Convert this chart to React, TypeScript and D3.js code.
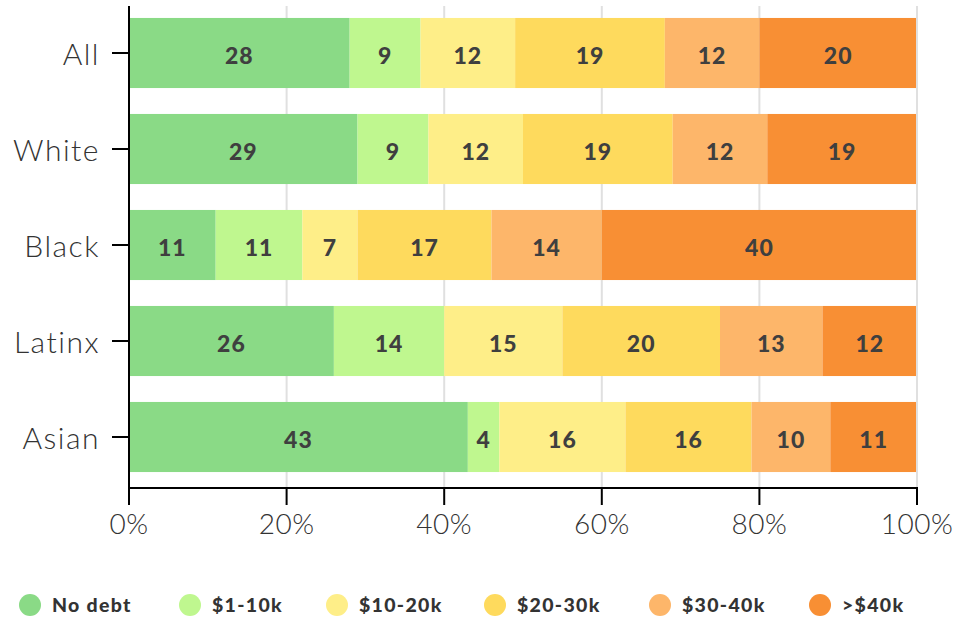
import React from "react";
import * as d3 from "d3";

const categories = ["All", "White", "Black", "Latinx", "Asian"];
const seriesNames = ["No debt", "$1-10k", "$10-20k", "$20-30k", "$30-40k", ">$40k"];
const noDebt = [28, 29, 11, 26, 43];
const k1to10 = [9, 9, 11, 14, 4];
const k10to20 = [12, 12, 7, 15, 16];
const k20to30 = [19, 19, 17, 20, 16];
const k30to40 = [12, 12, 14, 13, 10];
const over40 = [20, 19, 40, 12, 11];
const colors = ["#8ADA86", "#BFF78F", "#FEEE88", "#FEDA5D", "#FDB66A", "#F88F34"];
const xTicks = [0, 20, 40, 60, 80, 100];

const W = 955;
const H = 624;
const FONT = "Lato, 'Open Sans', sans-serif";

export default function App() {
  const series = [noDebt, k1to10, k10to20, k20to30, k30to40, over40];
  const rows = categories.map((c, i) => {
    const o: any = { cat: c };
    seriesNames.forEach((s, j) => (o[s] = series[j][i]));
    return o;
  });
  const stacked = d3.stack<any>().keys(seriesNames)(rows);
  const x = d3.scaleLinear().domain([0, 100]).range([129, 917]);
  const y = d3.scaleBand().domain(categories).range([5, 485]).paddingInner(0.27).paddingOuter(0.135);
  const axisY = 488;
  const legendX = [30, 190, 337, 495, 660, 820];

  return (
    <svg width={W} height={H} style={{ position: "absolute", left: 0, top: 0, background: "#fff" }}>
      {xTicks.map((t) => (
        <line key={"g" + t} x1={x(t)} x2={x(t)} y1={6} y2={axisY} stroke="#e0e0e0" strokeWidth={2} />
      ))}
      {stacked.map((layer, si) =>
        layer.map((d, i) => {
          const x0 = x(d[0]);
          const x1 = x(d[1]);
          const yy = y(categories[i])!;
          return (
            <g key={si + "-" + i}>
              <rect x={x0} y={yy} width={Math.max(0, x1 - x0 - (si === 5 ? 1 : 0))} height={y.bandwidth()} fill={colors[si]} />
              <text
                x={(x0 + x1) / 2}
                y={yy + y.bandwidth() / 2 + 5}
                textAnchor="middle"
                dominantBaseline="middle"
                fontFamily={FONT}
                fontWeight={900}
                fontSize={23}
                letterSpacing={1}
                fill="#3f3f3f"
              >
                {d[1] - d[0]}
              </text>
            </g>
          );
        })
      )}
      <line x1={129} x2={129} y1={6} y2={axisY + 1} stroke="#000" strokeWidth={2} />
      {categories.map((c) => {
        const cy = y(c)! + y.bandwidth() / 2;
        return (
          <g key={c}>
            <line x1={112} x2={129} y1={cy} y2={cy} stroke="#000" strokeWidth={2} />
            <text x={100} y={cy + 5} textAnchor="end" dominantBaseline="middle" fontFamily={FONT} fontWeight={300} fontSize={30} letterSpacing={1.5} fill="#333">
              {c}
            </text>
          </g>
        );
      })}
      <line x1={128} x2={918} y1={axisY} y2={axisY} stroke="#000" strokeWidth={2} />
      {xTicks.map((t) => (
        <g key={"t" + t}>
          <line x1={x(t)} x2={x(t)} y1={axisY} y2={axisY + 17} stroke="#000" strokeWidth={2} />
          <text x={x(t)} y={axisY + 39} textAnchor="middle" dominantBaseline="middle" fontFamily={FONT} fontWeight={300} fontSize={28} letterSpacing={0.5} fill="#333">
            {t}%
          </text>
        </g>
      ))}
      {seriesNames.map((s, i) => (
        <g key={"l" + s}>
          <circle cx={legendX[i]} cy={605} r={11} fill={colors[i]} />
          <text x={legendX[i] + 22} y={607} dominantBaseline="middle" fontFamily={FONT} fontWeight={900} fontSize={19.5} letterSpacing={1.3} fill="#333">
            {s}
          </text>
        </g>
      ))}
    </svg>
  );
}
